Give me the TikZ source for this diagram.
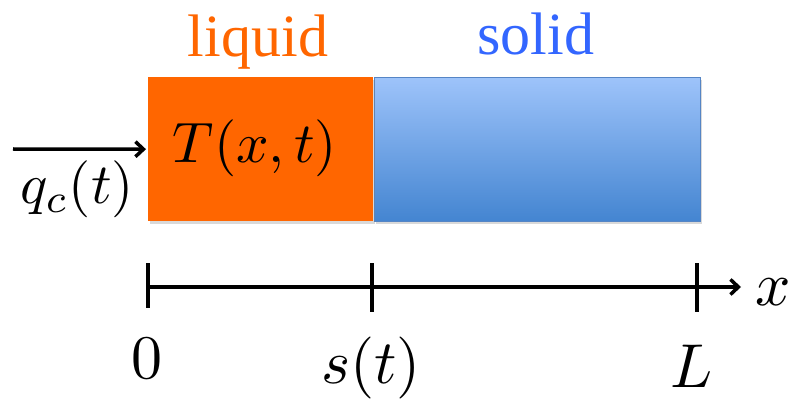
\documentclass[tikz,border=0pt]{standalone}
\usepackage{fontspec}
\newfontfamily\labelfont{Liberation Serif}[Ligatures=TeX]
\usetikzlibrary{arrows.meta,shadows}
\definecolor{liqorange}{HTML}{FF6600}
\definecolor{solidtxt}{HTML}{3366FF}
\definecolor{bluetop}{HTML}{9DC3FA}
\definecolor{bluebot}{HTML}{4485D1}
\definecolor{blueedge}{HTML}{5585C5}
\newcommand{\mathbig}[1]{\scalebox{5.7}{$#1$}}
\newcommand{\axisbig}[1]{\scalebox{6.2}{$#1$}}
\newcommand{\headtext}[1]{{\labelfont\fontsize{60}{66}\selectfont #1}}
\begin{document}
\begin{tikzpicture}[x=1pt,y=-1pt,
  boxshadow/.style={drop shadow={opacity=0.3,shadow xshift=2pt,shadow yshift=-2.5pt}},
  liqbox/.style={fill=liqorange,draw=none,minimum width=225pt,minimum height=144pt,inner sep=0pt,anchor=north west,boxshadow},
  solbox/.style={top color=bluetop,bottom color=bluebot,draw=blueedge,line width=1pt,minimum width=326pt,minimum height=143pt,inner sep=0pt,anchor=north west,boxshadow},
  heading/.style={anchor=base,inner sep=0pt},
  mathlbl/.style={anchor=base,inner sep=0pt},
  axline/.style={line width=3.5pt},
  arr/.style={line width=3.5pt,-{Straight Barb[length=8pt,width=15pt,line width=3.5pt]}}]
\useasboundingbox (0,0) rectangle (793,401);
\node[solbox] (sol) at (373.5,77.5) {};
\node[liqbox] (liq) at (148,77) {};
\node[heading,text=liqorange] (liqt) at (258,57) {\headtext{liquid}};
\node[heading,text=solidtxt] (solt) at (536,55) {\headtext{solid}};
\node[mathlbl] (T) at (255,163) {\mathbig{T(x,t)}};
\coordinate (qs) at (13,149);
\draw[arr,shorten >=2pt] (qs) -- (liq.west);
\node[mathlbl] (q) at (77,204) {\mathbig{q_c(t)}};
% axis
\coordinate (a0) at (148,287);
\coordinate (aend) at (741,287);
\draw[arr] (a0) -- (aend);
\coordinate (t0a) at (148,263);
\coordinate (t0b) at (148,308);
\coordinate (t1a) at (372,263);
\coordinate (t1b) at (372,312);
\coordinate (t2a) at (697,263);
\coordinate (t2b) at (697,312);
\draw[axline] (t0a) -- (t0b);
\draw[axline] (t1a) -- (t1b);
\draw[axline] (t2a) -- (t2b);
\node[mathlbl] (l0) at (147,378) {\axisbig{0}};
\node[mathlbl] (ls) at (371,383) {\axisbig{s(t)}};
\node[mathlbl] (lL) at (692,387) {\axisbig{L}};
\node[mathlbl] (lx) at (773,305) {\axisbig{x}};
\end{tikzpicture}
\end{document}
